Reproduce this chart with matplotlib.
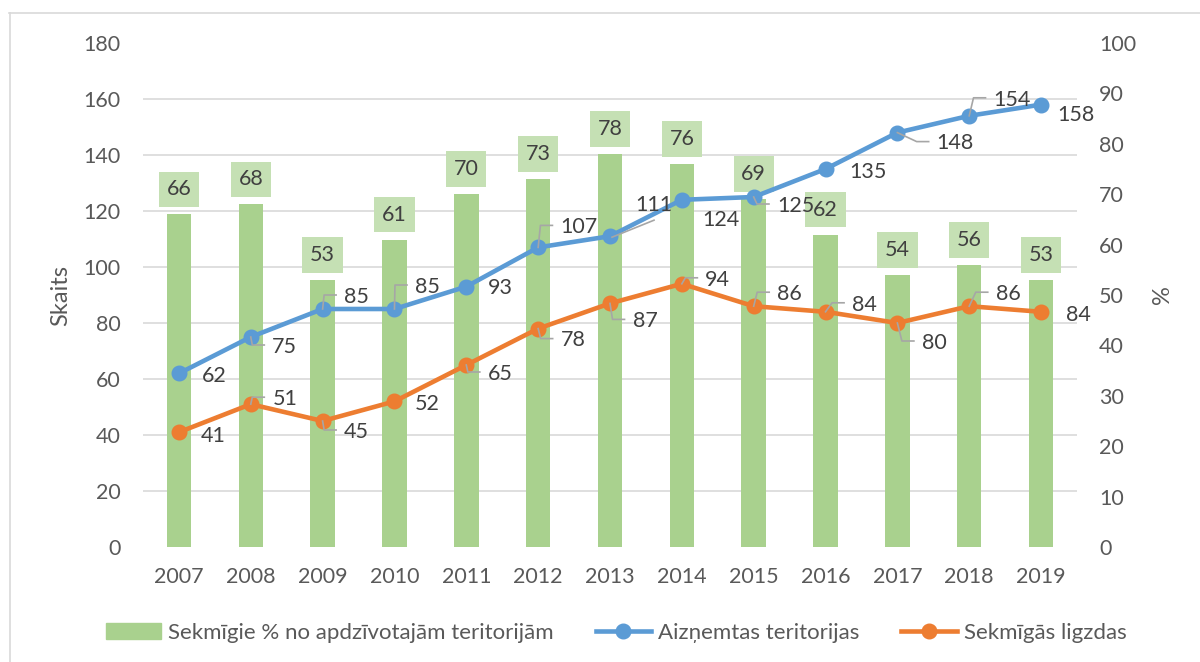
import matplotlib.pyplot as plt
import numpy as np
from matplotlib.lines import Line2D
from matplotlib.patches import Patch
from matplotlib.transforms import IdentityTransform

plt.rcParams['font.family'] = ['Lato', 'DejaVu Sans']

# data
years = ['2007', '2008', '2009', '2010', '2011', '2012', '2013',
         '2014', '2015', '2016', '2017', '2018', '2019']
sekmigie_pct = [66, 68, 53, 61, 70, 73, 78, 76, 69, 62, 54, 56, 53]
aiznemtas = [62, 75, 85, 85, 93, 107, 111, 124, 125, 135, 148, 154, 158]
ligzdas = [41, 51, 45, 52, 65, 78, 87, 94, 86, 84, 80, 86, 84]

# label placement: (dx, dy) in pixels from the point (dy downwards), leader type
blue_lbl = [(35, 1, None), (34, 8, 'left'), (34, -14, 'left'), (33, -24, 'left'),
            (34, 0, None), (41, -22, 'left'), (44, -33, 'bottom'), (39, 18, None),
            (42, 7, 'left'), (42, 1, None), (58, 9, 'left'), (43, -18, 'left'),
            (35, 9, None)]
orange_lbl = [(34, 2, None), (34, -7, 'left'), (34, 9, 'left'), (33, 1, None),
              (34, 7, 'left'), (35, 10, 'left'), (35, 16, 'left'), (36, -6, 'left'),
              (36, -14, 'left'), (39, -9, 'left'), (37, 18, 'left'), (39, -14, 'left'),
              (37, 1, None)]

green = '#a9d18e'
green_box = '#c5e0b4'
blue = '#5b9bd5'
orange = '#ed7d31'
txt = '#595959'
lbl = '#404040'
grid = '#d9d9d9'
fs = 15.5

fig = plt.figure(figsize=(12, 6.62), dpi=100)
pos = [143 / 1200, 1 - 547 / 662, 934 / 1200, 504 / 662]
ax = fig.add_axes(pos)
ax2 = ax.twinx()
ax.set_zorder(2)
ax2.set_zorder(1)
ax.patch.set_visible(False)

x = np.arange(len(years))

# bars on the percent axis
ax2.bar(x, sekmigie_pct, width=0.34, color=green, zorder=2)
ax2.set_ylim(0, 100)
ax2.set_yticks(np.arange(0, 101, 10))
ax2.set_yticks(np.arange(0, 181, 20) / 1.8, minor=True)
ax2.grid(False, which='major')
ax2.grid(True, which='minor', color=grid, lw=1.2)
ax2.set_axisbelow(True)
ax2.tick_params(axis='y', which='both', length=0, pad=16, labelsize=fs, labelcolor=txt)

for i, v in enumerate(sekmigie_pct):
    ax2.annotate(str(v), (x[i], v), xytext=(0, 19), textcoords='offset pixels',
                 ha='center', va='baseline', fontsize=fs, color=lbl, zorder=3,
                 bbox=dict(boxstyle='square,pad=0.36', fc=green_box, ec='none'))

# lines on the count axis
ax.plot(x, aiznemtas, color=blue, lw=3.3, marker='o', ms=10.5, zorder=3)
ax.plot(x, ligzdas, color=orange, lw=3.3, marker='o', ms=10.5, zorder=3)
ax.set_xlim(-0.5, len(years) - 0.5)
ax2.set_xlim(-0.5, len(years) - 0.5)
ax.set_ylim(0, 180)
ax.set_yticks(np.arange(0, 181, 20))
ax.set_xticks(x)
ax.set_xticklabels(years)
ax.tick_params(axis='y', length=0, pad=16, labelsize=fs, labelcolor=txt)
ax.tick_params(axis='x', length=0, pad=14.5, labelsize=fs, labelcolor=txt)
ax2.tick_params(axis='x', length=0, labelbottom=False)

for a in (ax, ax2):
    for s in a.spines.values():
        s.set_visible(False)

fig.canvas.draw()
fs_px = fs * 100 / 72
dig_w = 0.58 * fs_px
cap_h = 0.72 * fs_px


def put_labels(vals, specs):
    for i, v in enumerate(vals):
        dx, dy, kind = specs[i]
        ax.annotate(str(v), (x[i], v), xytext=(dx, -dy - cap_h / 2),
                    textcoords='offset pixels', ha='center', va='baseline',
                    fontsize=fs, color=lbl, zorder=5)
        if kind is None:
            continue
        px, py = ax.transData.transform((x[i], v))
        w = dig_w * len(str(v))
        if kind == 'left':
            left = dx - w / 2
            xs = [px, px + left - 20, px + left - 8]
            ys = [py, py - dy, py - dy]
        else:
            xs = [px + 2, px + dx]
            ys = [py - 1, py - dy - 17]
        ax.add_line(Line2D(xs, ys, transform=IdentityTransform(), color='#a6a6a6',
                           lw=1.2, zorder=4, clip_on=False))


put_labels(aiznemtas, blue_lbl)
put_labels(ligzdas, orange_lbl)

fig.text(61 / 1200, 1 - 295 / 662, 'Skaits', rotation=90, ha='center', va='center',
         fontsize=fs + 1.5, color=txt)
fig.text(1163 / 1200, 1 - 295 / 662, '%', rotation=90, ha='center', va='center',
         fontsize=fs + 1.5, color=txt)

handles = [Patch(color=green),
           Line2D([], [], color=blue, lw=3.3, marker='o', ms=10.5),
           Line2D([], [], color=orange, lw=3.3, marker='o', ms=10.5)]
names = ['Sekmīgie % no apdzīvotajām teritorijām', 'Aizņemtas teritorijas', 'Sekmīgās ligzdas']
fig.legend(handles, names, loc='center', bbox_to_anchor=(616 / 1200, 1 - 633 / 662),
           ncol=3, frameon=False, fontsize=16, labelcolor=txt, handlelength=2.5,
           handletextpad=0.3, columnspacing=1.9)

# chart border
fig.add_artist(Line2D([9 / 1200, 1], [1 - 13 / 662, 1 - 13 / 662], color=grid, lw=1.2))
fig.add_artist(Line2D([10 / 1200, 10 / 1200], [0, 1 - 13 / 662], color=grid, lw=1.2))

fig.savefig('out.png', dpi=100)
